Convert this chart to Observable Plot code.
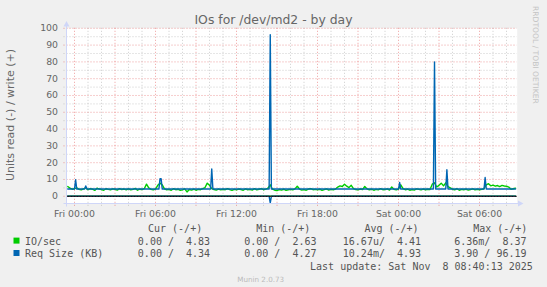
<!DOCTYPE html>
<html><head><meta charset="utf-8">
<script src="https://cdn.jsdelivr.net/npm/d3@7"></script>
<script src="https://cdn.jsdelivr.net/npm/@observablehq/plot@0.6"></script>
<style>
html,body{margin:0;padding:0;background:#F0F0F0;}
#chart{position:relative;width:547px;height:287px;overflow:hidden;}
</style></head><body><div id="chart"></div>
<script>
// ---------- text ----------
const title = "IOs for /dev/md2 - by day";
const yLabel = "Units read (-) / write (+)";
const sideText = "RRDTOOL / TOBI OETIKER";
const watermark = "Munin 2.0.73";
const lastUpdate = "Last update: Sat Nov  8 08:40:13 2025";

// ---------- axes ----------
const xTickTimes = ["2025-11-07T00:00Z","2025-11-07T06:00Z","2025-11-07T12:00Z","2025-11-07T18:00Z","2025-11-08T00:00Z","2025-11-08T06:00Z"];
const xTickLabels = ["Fri 00:00","Fri 06:00","Fri 12:00","Fri 18:00","Sat 00:00","Sat 06:00"];
const yTicks = [0,10,20,30,40,50,60,70,80,90,100];
const yMinorTicks = [5,15,25,35,45,55,65,75,85,95];

// ---------- legend ----------
const seriesNames = ["IO/sec","Req Size (KB)"];
const seriesColors = ["#00CC00","#0066B3"];
const statHeaders = ["Cur (-/+)","Min (-/+)","Avg (-/+)","Max (-/+)"];
const ioStats  = ["0.00 /  4.83","0.00 /  2.63","16.67u/  4.41","6.36m/  8.37"];
const reqStats = ["0.00 /  4.34","0.00 /  4.27","10.24m/  4.93","3.90 / 96.19"];

// ---------- data ----------
// IO/sec write (+), one sample every 10 minutes starting Thu 23:30 UTC
const ioWriteStart = "2025-11-06T23:30:00Z";
const ioWrite = [
 5.8,4.9,4.2,
 4.5,5.0,4.1,3.8,4.4,5.0,
 3.9,4.6,4.2,3.5,4.8,4.3,
 4.0,3.6,4.5,4.1,3.8,4.4,
 4.2,3.7,4.6,4.0,4.3,3.9,
 4.4,3.8,4.1,4.7,3.6,4.2,
 4.0,4.5,7.2,5.0,4.1,3.8,
 4.3,6.5,7.8,6.8,4.4,3.9,
 4.1,3.6,4.5,3.9,4.2,3.5,
 3.8,4.4,2.6,4.0,3.7,4.2,
 3.6,4.1,3.9,4.5,5.2,7.8,
 6.5,4.6,4.0,3.7,4.3,3.8,
 4.2,3.9,4.6,4.0,3.5,4.1,
 3.8,4.3,4.0,3.6,4.4,3.9,
 4.1,3.7,4.5,3.8,4.2,4.6,
 3.9,4.3,4.8,6.8,4.2,3.6,
 3.4,4.0,3.7,4.2,3.5,3.9,
 4.1,3.8,4.4,6.0,4.3,3.7,
 4.0,3.6,4.3,4.5,3.9,4.1,
 3.8,4.2,3.5,4.0,4.4,3.7,
 4.1,3.9,4.3,5.5,6.2,5.8,
 7.2,6.0,5.2,6.5,4.6,4.0,
 3.8,4.3,4.0,5.8,4.4,3.9,
 4.2,3.6,4.1,3.8,4.5,3.9,
 4.0,4.4,3.7,5.5,4.1,3.8,
 4.3,6.8,4.6,3.9,4.2,3.6,
 4.0,3.7,4.4,4.1,3.8,4.3,
 3.9,4.2,4.0,7.2,8.0,5.5,
 6.5,7.8,6.2,8.0,5.8,5.0,
 4.2,3.8,4.5,3.6,4.1,3.9,
 4.3,3.7,4.0,4.4,3.8,4.2,
 3.9,4.1,4.5,6.8,7.5,6.2,
 6.6,6.0,6.4,5.8,6.5,6.1,
 6.0,5.5,4.2,4.5,4.83
];
// IO/sec read (-)
const ioReadTimes = ["2025-11-06T23:30:00Z","2025-11-08T08:40:00Z"];
const ioReadValues = [0,0];
// Req Size (KB) write (+)
const reqWriteTimes = [
 "2025-11-06T23:30:00Z","2025-11-07T00:00:00Z","2025-11-07T00:05:00Z","2025-11-07T00:10:00Z",
 "2025-11-07T00:45:00Z","2025-11-07T00:50:00Z","2025-11-07T00:55:00Z",
 "2025-11-07T06:15:00Z","2025-11-07T06:20:00Z","2025-11-07T06:25:00Z","2025-11-07T06:30:00Z",
 "2025-11-07T10:05:00Z","2025-11-07T10:10:00Z","2025-11-07T10:15:00Z",
 "2025-11-07T14:25:00Z","2025-11-07T14:30:00Z","2025-11-07T14:35:00Z",
 "2025-11-08T00:00:00Z","2025-11-08T00:05:00Z","2025-11-08T00:10:00Z",
 "2025-11-08T02:35:00Z","2025-11-08T02:40:00Z","2025-11-08T02:45:00Z",
 "2025-11-08T03:30:00Z","2025-11-08T03:35:00Z","2025-11-08T03:40:00Z",
 "2025-11-08T06:20:00Z","2025-11-08T06:25:00Z","2025-11-08T06:30:00Z",
 "2025-11-08T08:40:00Z"];
const reqWriteValues = [
 4.3,4.3,9.8,4.3,
 4.3,6.2,4.3,
 4.3,10.4,10.4,4.3,
 4.3,16.2,4.3,
 4.3,96.19,4.3,
 4.3,8.2,4.3,
 4.3,79.9,4.3,
 4.3,15.8,4.3,
 4.3,11.2,4.3,
 4.34];
// Req Size (KB) read (-)
const reqReadTimes = ["2025-11-06T23:30:00Z","2025-11-07T14:25:00Z","2025-11-07T14:30:00Z","2025-11-07T14:35:00Z","2025-11-08T08:40:00Z"];
const reqReadValues = [0,0,-3.9,0,0];

// ---------- build ----------
const t0 = new Date(ioWriteStart).getTime();
const ioData = ioWrite.map((v,i)=>({t:new Date(t0 + i*600000), v}));
const ioRead = ioReadTimes.map((s,i)=>({t:new Date(s), v:ioReadValues[i]}));
const reqData = reqWriteTimes.map((s,i)=>({t:new Date(s), v:reqWriteValues[i]}));
const reqRead = reqReadTimes.map((s,i)=>({t:new Date(s), v:reqReadValues[i]}));
const xTicks = xTickTimes.map(s=>new Date(s));
const labelOf = new Map(xTicks.map((d,i)=>[+d, xTickLabels[i]]));

const start = new Date("2025-11-06T23:26:40Z"), end = new Date("2025-11-08T08:47:30Z");
const hours = d3.utcHour.range(new Date("2025-11-07T00:00Z"), end);
const majorX = hours.filter(d=>d.getUTCHours()%3===0);
const minorX = hours.filter(d=>d.getUTCHours()%3!==0);

const gridMinor = {stroke:"#B8B8B8", strokeOpacity:0.7, strokeDasharray:"1,2"};
const gridMajor = {stroke:"#E05050", strokeOpacity:0.55, strokeDasharray:"1,2"};

const plot = Plot.plot({
  width:547, height:287,
  marginLeft:66.5, marginRight:30.3, marginTop:27.8, marginBottom:84,
  style:{background:"#F0F0F0", fontFamily:"'DejaVu Sans', sans-serif", fontSize:"9.33px", overflow:"visible"},
  x:{type:"utc", domain:[start,end]},
  y:{domain:[-4.3,100]},
  marks:[
    Plot.frame({fill:"#FFFFFF", stroke:null}),
    Plot.ruleX(minorX, {...gridMinor, insetBottom:-3}),
    Plot.ruleY(yMinorTicks, {...gridMinor, insetLeft:-3}),
    Plot.ruleX(majorX, {...gridMajor, insetBottom:-3}),
    Plot.ruleY(yTicks, {...gridMajor, insetLeft:-3}),
    Plot.line(ioRead, {x:"t", y:"v", stroke:seriesColors[0], strokeWidth:1.4}),
    Plot.line(reqRead, {x:"t", y:"v", stroke:seriesColors[1], strokeWidth:1.4}),
    Plot.line(ioData, {x:"t", y:"v", stroke:seriesColors[0], strokeWidth:1.4}),
    Plot.line(reqData, {x:"t", y:"v", stroke:seriesColors[1], strokeWidth:1.4}),
    Plot.ruleY([0], {stroke:"#000000", strokeWidth:1}),
    Plot.ruleY([0], {...gridMajor}),
    Plot.axisX(xTicks, {anchor:"bottom", tickSize:0, tickPadding:6.4, tickFormat:d=>labelOf.get(+d), fontSize:9.33, fill:"#666666", label:null}),
    Plot.axisY(yTicks, {anchor:"left", tickSize:0, tickPadding:9, fontSize:9.33, fill:"#666666", label:null})
  ]
});
document.getElementById("chart").appendChild(plot);

const svg = d3.select(plot);
const axisColor = "#CFD6F8";
// axes with arrows
svg.append("line").attr("x1",63.5).attr("x2",518.5).attr("y1",203.5).attr("y2",203.5).attr("stroke",axisColor);
svg.append("path").attr("d","M518,200.5L523.5,203.5L518,206.5Z").attr("fill",axisColor);
svg.append("line").attr("x1",66.5).attr("x2",66.5).attr("y1",206.5).attr("y2",26).attr("stroke",axisColor);
svg.append("path").attr("d","M63.5,26.5L66.5,21L69.5,26.5Z").attr("fill",axisColor);

const sans = "'DejaVu Sans', sans-serif", mono = "'DejaVu Sans Mono', monospace";
function txt(x,y,s,o={}){
  const t = svg.append("text").attr("x",x).attr("y",y).text(s)
    .attr("font-family",o.family||sans).attr("font-size",o.size||9.33)
    .attr("fill",o.fill||"#666666").attr("text-anchor",o.anchor||"start")
    .style("white-space","pre");
  if(o.transform) t.attr("transform",o.transform);
  return t;
}
txt(273.5,23.5,title,{size:12.4,anchor:"middle"});
txt(0,0,yLabel,{size:11,anchor:"middle",transform:"translate(14.3,115) rotate(-90)"});
txt(0,0,sideText,{size:7.6,fill:"#C4C4C4",transform:"translate(532.5,6) rotate(90)"});
txt(260.7,282,watermark,{size:7.2,fill:"#BBBBBB",anchor:"middle"});

const headerRight = [202.2,310.4,418.6,527.4];
const valueRight = [210.1,316.5,421.1,526.5];
statHeaders.forEach((h,i)=>txt(headerRight[i],232.3,h,{family:mono,size:10,fill:"#555555",anchor:"end"}));
[ioStats, reqStats].forEach((row,r)=>{
  const y = 244.6 + r*12.4;
  svg.append("rect").attr("x",13.5).attr("y",y-7).attr("width",6).attr("height",6).attr("fill",seriesColors[r]);
  txt(25,y,seriesNames[r],{family:mono,size:10,fill:"#555555"});
  row.forEach((s,i)=>txt(valueRight[i],y,s,{family:mono,size:10,fill:"#555555",anchor:"end"}));
});
txt(532.8,269.6,lastUpdate,{family:mono,size:10,fill:"#555555",anchor:"end"});
</script></body></html>
